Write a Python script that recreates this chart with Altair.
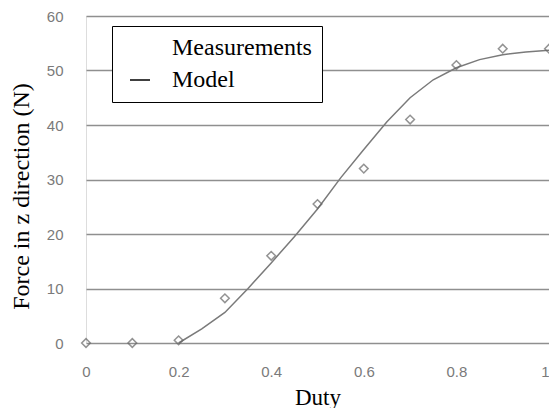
import altair as alt
import pandas as pd

# Measurements
meas_duty = [0.0, 0.1, 0.2, 0.3, 0.4, 0.5, 0.6, 0.7, 0.8, 0.9, 1.0]
meas_force = [0.0, 0.0, 0.5, 8.2, 16.0, 25.5, 32.0, 41.0, 51.0, 54.0, 54.0]

# Model curve
model_duty = [0.2, 0.25, 0.3, 0.35, 0.4, 0.45, 0.5, 0.55, 0.6, 0.65, 0.7,
              0.75, 0.8, 0.85, 0.9, 0.95, 1.0]
model_force = [0.0, 2.6, 5.6, 10.0, 14.7, 19.5, 24.6, 30.3, 35.5, 40.6, 45.0,
               48.3, 50.5, 52.0, 52.9, 53.4, 53.7]

series_names = ["Measurements", "Model"]
x_ticks = [0, 0.2, 0.4, 0.6, 0.8, 1.0]
y_ticks = [0, 10, 20, 30, 40, 50, 60]

meas_df = pd.DataFrame({"duty": meas_duty, "force": meas_force})
model_df = pd.DataFrame({"duty": model_duty, "force": model_force})
legend_df = pd.DataFrame({"series": series_names})

LABEL_FONT = "Liberation Sans, Arial, sans-serif"
TITLE_FONT = "'Liberation Serif', 'Times New Roman', Times, serif"

x_enc = alt.X(
    "duty:Q",
    scale=alt.Scale(domain=[0, 1], nice=False, zero=False),
    axis=alt.Axis(
        title="Duty", values=x_ticks, format=".1~f", grid=False, ticks=False,
        domain=False, labelPadding=21, titlePadding=7,
        labelFont=LABEL_FONT, labelFontSize=15, labelColor="#7a7a7a",
        titleFont=TITLE_FONT, titleFontSize=23, titleFontWeight="normal",
        titleColor="black", labelFlush=False,
        labelAlign={"condition": {"test": "datum.value === 1", "value": "right"},
                    "value": "center"},
    ),
)
y_enc = alt.Y(
    "force:Q",
    scale=alt.Scale(domain=[0, 60], nice=False),
    axis=alt.Axis(
        title="Force in z direction (N)", values=y_ticks, grid=True,
        gridColor="#8f8f8f", gridWidth=1.6, ticks=False, domain=False,
        labelPadding=23, titlePadding=13, titleY=180,
        labelFont=LABEL_FONT, labelFontSize=15, labelColor="#7a7a7a",
        titleFont=TITLE_FONT, titleFontSize=24, titleFontWeight="normal",
        titleColor="black",
    ),
)

line = alt.Chart(model_df).mark_line(color="#7a7a7a", strokeWidth=1.5).encode(
    x=x_enc, y=y_enc
)
points = alt.Chart(meas_df).mark_point(
    shape="diamond", filled=False, color="#666666", size=75, strokeWidth=1.5
).encode(x=alt.X("duty:Q"), y=alt.Y("force:Q"))

legend_layer = alt.Chart(legend_df).mark_point(opacity=0).encode(
    shape=alt.Shape(
        "series:N",
        scale=alt.Scale(domain=series_names, range=["M0,0", "M-1,0L1,0"]),
        legend=alt.Legend(
            title=None, orient="none", legendX=26, legendY=10,
            strokeColor="black", padding=10, fillColor="white",
            symbolOpacity=1, symbolStrokeColor="black", symbolStrokeWidth=1.5,
            symbolFillColor="transparent", symbolSize=400, symbolOffset=6,
            labelFont=TITLE_FONT, labelFontSize=24, labelColor="black",
            labelOffset=20, rowPadding=8, labelLimit=400,
        ),
    )
)

chart = alt.layer(line, points, legend_layer).properties(
    width=463,
    height=327,
    autosize=alt.AutoSizeParams(type="none"),
    padding={"left": 78, "top": 8, "right": 0, "bottom": 65},
).configure_view(stroke="#8f8f8f", strokeWidth=1.6).configure(background="white")

chart.save("out.html", embed_options={"renderer": "svg", "actions": False})
